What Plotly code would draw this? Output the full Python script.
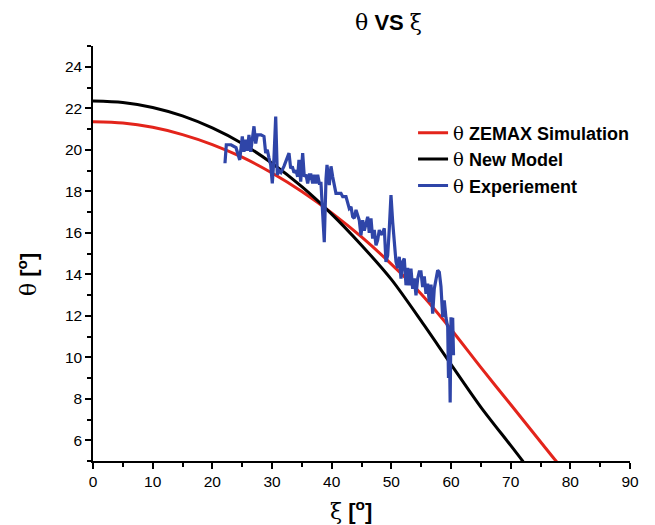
import plotly.graph_objects as go

# ZEMAX simulation curve
zemax_x = [0, 5, 10, 15, 20, 25, 30, 35, 40, 45, 50, 55, 60, 65, 70, 75, 77.6, 78.5]
zemax_y = [21.35, 21.29, 21.08, 20.73, 20.25, 19.64, 18.88, 17.99, 16.96, 15.8, 14.49, 13.05, 11.35, 9.51, 7.72, 5.93, 5.0, 4.7]

# New model curve
model_x = [0, 5, 10, 15, 20, 25, 30, 35, 40, 45, 50, 55, 60, 65, 70, 72, 73]
model_y = [22.35, 22.28, 22.04, 21.63, 21.05, 20.3, 19.35, 18.22, 16.9, 15.4, 13.75, 11.75, 9.66, 7.6, 5.75, 5.0, 4.6]

# Experiment
exp_x = [22.12, 22.34, 23.13, 23.97, 24.59, 24.85, 25.02, 25.3, 25.59, 25.86, 26.14, 26.43, 26.65, 26.98,
         27.27, 27.53, 28.15, 28.66, 28.94, 29.21, 29.5, 29.78, 30.05, 30.33, 30.62, 30.89, 31.17, 31.5,
         32.0, 32.56, 32.85, 33.13, 33.4, 33.69, 34.02, 34.3, 34.52, 34.81, 35.14, 35.41, 35.7, 35.98,
         36.25, 36.53, 36.82, 37.09, 37.37, 37.66, 37.93, 38.21, 38.5, 38.76, 39.05, 39.22, 39.6, 39.89,
         40.17, 40.44, 40.72, 41.56, 41.85, 42.12, 42.4, 42.95, 43.24, 43.52, 43.79, 44.08, 44.36, 44.63,
         44.91, 45.2, 45.47, 45.75, 46.04, 46.3, 46.59, 46.87, 47.14, 47.43, 47.71, 47.98, 48.27, 48.55,
         48.82, 49.1, 49.39, 49.66, 49.94, 50.23, 50.5, 50.78, 51.07, 51.33, 51.62, 51.9, 52.17, 52.46,
         52.74, 53.01, 53.29, 53.58, 53.85, 54.13, 54.42, 54.68, 54.97, 55.25, 55.52, 55.81, 56.09, 56.36,
         56.65, 56.93, 57.2, 57.48, 57.77, 58.04, 58.32, 58.61, 58.87, 59.16, 59.45, 59.58, 59.72, 59.86,
         60.0, 60.13, 60.28, 60.42]
exp_y = [19.35, 20.24, 20.24, 20.1, 19.51, 20.3, 20.64, 19.9, 20.48, 19.95, 20.72, 19.9, 20.3, 21.13,
         20.3, 20.72, 20.72, 20.64, 19.84, 20.0, 19.6, 19.27, 18.38, 19.6, 21.6, 18.79, 19.0, 18.9,
         19.2, 19.6, 19.84, 19.1, 19.19, 18.9, 19.0, 18.7, 19.51, 18.46, 19.84, 18.7, 18.8, 18.38,
         18.79, 18.79, 18.38, 18.79, 18.38, 18.79, 18.38, 18.38, 16.93, 15.55, 18.6, 19.27, 18.3, 19.2,
         18.7, 18.3, 17.9, 17.9, 17.74, 17.74, 17.74, 17.17, 17.25, 16.77, 16.7, 17.1, 16.77, 16.6,
         15.88, 16.6, 16.1, 16.53, 16.77, 16.0, 16.69, 15.72, 16.13, 15.4, 15.64, 16.13, 15.9, 16.0,
         16.21, 14.6, 14.9, 16.2, 17.82, 16.5, 15.64, 14.6, 14.3, 14.84, 13.79, 14.6, 14.76, 13.47,
         14.3, 13.47, 14.27, 13.3, 13.8, 12.98, 13.8, 14.11, 14.11, 13.38, 13.9, 13.06, 13.55, 12.66,
         13.5, 12.1, 13.3, 13.87, 14.19, 14.1, 13.4, 11.93, 12.74, 11.9, 11.45, 9.0, 10.8, 7.82,
         11.93, 10.4, 11.9, 10.1]

x_ticks = [0, 10, 20, 30, 40, 50, 60, 70, 80, 90]
y_ticks = [6, 8, 10, 12, 14, 16, 18, 20, 22, 24]

SYM = "font-family:'DejaVu Serif';font-weight:normal"
TH = f"<span style=\"{SYM}\">θ</span>"
XI = f"<span style=\"{SYM}\">ξ</span>"

fig = go.Figure()
fig.add_trace(go.Scatter(x=zemax_x, y=zemax_y, mode="lines",
                         line=dict(color="#e3241b", width=3, shape="spline", smoothing=0.8),
                         name=f"{TH} <b>ZEMAX Simulation</b>"))
fig.add_trace(go.Scatter(x=model_x, y=model_y, mode="lines",
                         line=dict(color="#000000", width=3, shape="spline", smoothing=0.8),
                         name=f"{TH} <b>New Model</b>"))
fig.add_trace(go.Scatter(x=exp_x, y=exp_y, mode="lines", line=dict(color="#2f45a8", width=3.2),
                         name=f"{TH} <b>Experiement</b>"))

axis_common = dict(showline=True, linecolor="black", linewidth=1.5, ticks="outside", ticklen=6,
                   tickwidth=1.5, tickcolor="black", showgrid=False, zeroline=False, mirror=False,
                   tickfont=dict(family="Liberation Sans, Arial", size=15.5, color="black"))

fig.update_xaxes(range=[0, 90], tickmode="array", tickvals=x_ticks,
                 minor=dict(tickmode="array", tickvals=[5, 15, 25, 35, 45, 55, 65, 75, 85],
                            ticks="outside", ticklen=4, tickwidth=1.5, tickcolor="black"),
                 **axis_common)
fig.update_yaxes(range=[5, 25], tickmode="array", tickvals=y_ticks,
                 minor=dict(tickmode="array", tickvals=[5, 7, 9, 11, 13, 15, 17, 19, 21, 23, 25],
                            ticks="outside", ticklen=4, tickwidth=1.5, tickcolor="black"),
                 **axis_common)

fig.update_layout(
    width=648, height=518,
    margin=dict(l=85, r=26, t=38, b=65),
    plot_bgcolor="white", paper_bgcolor="white",
    showlegend=True,
    legend=dict(x=0.596, y=0.835, xanchor="left", yanchor="top", bgcolor="rgba(0,0,0,0)",
                font=dict(family="Liberation Sans, Arial", size=18, color="black"),
                tracegroupgap=0),
    annotations=[
        dict(text=f"{TH} <b>VS</b> {XI}", x=0.55, y=1.0, xref="paper", yref="paper",
             xanchor="center", yanchor="bottom", yshift=9, showarrow=False,
             font=dict(family="Liberation Sans, Arial", size=22, color="black")),
        dict(text=f"{XI} <b>[<sup>o</sup>]</b>", x=0.48, y=0, xref="paper", yref="paper",
             xanchor="center", yanchor="top", yshift=-33, showarrow=False,
             font=dict(family="Liberation Sans, Arial", size=22, color="black")),
        dict(text=f"{TH} <b>[<sup>o</sup>]</b>", x=0, y=0.448, xref="paper", yref="paper",
             xanchor="center", yanchor="middle", xshift=-66, textangle=-90, showarrow=False,
             font=dict(family="Liberation Sans, Arial", size=22, color="black")),
    ],
)

fig.write_html("out.html")
